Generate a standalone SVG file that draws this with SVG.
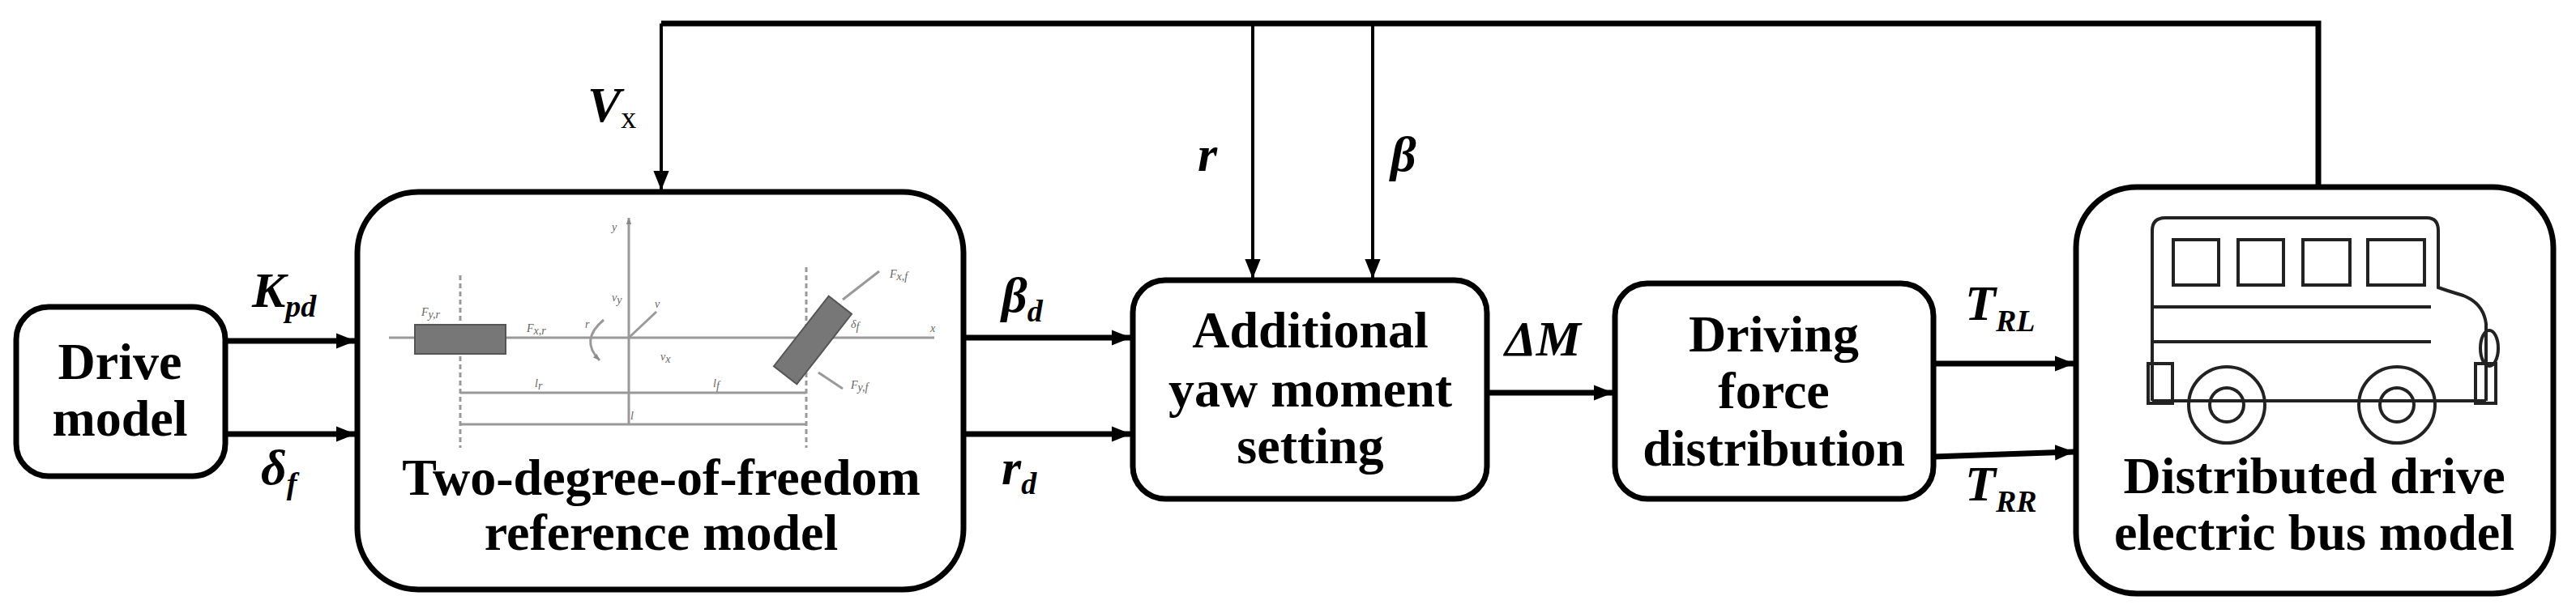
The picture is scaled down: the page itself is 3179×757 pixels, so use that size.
<svg xmlns="http://www.w3.org/2000/svg" width="3179" height="757" viewBox="0 0 3179 757" font-family="'Liberation Serif', 'DejaVu Serif', serif">
<defs>
<marker id="a" viewBox="0 0 10 10" refX="10" refY="5" markerWidth="24" markerHeight="24" markerUnits="userSpaceOnUse" orient="auto"><path d="M0,1 L10,5 L0,9 z" fill="#000"/></marker>
<marker id="g" viewBox="0 0 10 10" refX="10" refY="5" markerWidth="8" markerHeight="8" markerUnits="userSpaceOnUse" orient="auto"><path d="M0,1 L10,5 L0,9 z" fill="#888"/></marker>
</defs>
<style>
.box{fill:#fff;stroke:#000;stroke-width:7}
.t{font-family:'Liberation Serif',serif;font-weight:bold;font-size:64px;text-anchor:middle;fill:#000}
.l{font-family:'Liberation Serif',serif;font-weight:bold;font-style:italic;font-size:62px;fill:#000}
.s{font-size:38px}
.c{fill:none;stroke:#000;stroke-width:7}
.c2{fill:none;stroke:#000;stroke-width:4}
.gl{stroke:#999;stroke-width:3;fill:none}
.gt{font-family:'Liberation Serif',serif;font-style:italic;font-size:14px;fill:#666}
.bus{fill:none;stroke:#222;stroke-width:4}
</style>
<rect width="3179" height="757" fill="#fff"/>
<g id="connectors">
<polyline class="c" points="2861,231 2861,29 816,29"/>
<line class="c2" x1="816" y1="29" x2="816" y2="235" marker-end="url(#a)"/>
<line class="c2" x1="1546" y1="29" x2="1546" y2="344" marker-end="url(#a)"/>
<line class="c2" x1="1694" y1="29" x2="1694" y2="344" marker-end="url(#a)"/>
<line class="c" x1="278" y1="421" x2="439" y2="421" marker-end="url(#a)"/>
<line class="c" x1="278" y1="536" x2="439" y2="536" marker-end="url(#a)"/>
<line class="c" x1="1189" y1="417" x2="1396" y2="417" marker-end="url(#a)"/>
<line class="c" x1="1189" y1="536" x2="1396" y2="536" marker-end="url(#a)"/>
<line class="c" x1="1835" y1="485" x2="1991" y2="485" marker-end="url(#a)"/>
<line class="c" x1="2386" y1="449" x2="2560" y2="449" marker-end="url(#a)"/>
<line class="c" x1="2386" y1="564" x2="2560" y2="558" marker-end="url(#a)"/>
</g>
<g id="labels">
<text class="l" x="311" y="379">K<tspan class="s" dy="12">pd</tspan></text>
<text class="l" x="322" y="598">δ<tspan class="s" dy="12">f</tspan></text>
<text class="l" x="725" y="150">V<tspan class="s" dy="8" font-style="normal" font-weight="normal">x</tspan></text>
<text class="l" x="1478" y="211">r</text>
<text class="l" x="1716" y="211">β</text>
<text class="l" x="1236" y="385">β<tspan class="s" dy="12">d</tspan></text>
<text class="l" x="1236" y="598">r<tspan class="s" dy="12">d</tspan></text>
<text class="l" x="1857" y="439" font-size="50">ΔM</text>
<text class="l" x="2425" y="395">T<tspan class="s" dy="14">RL</tspan></text>
<text class="l" x="2425" y="618">T<tspan class="s" dy="14">RR</tspan></text>
</g>
<g id="drive">
<rect class="box" x="20" y="379" width="258" height="209" rx="40"/>
<text class="t" x="148" y="468">Drive</text>
<text class="t" x="148" y="538">model</text>
</g>
<g id="twodof">
<rect class="box" x="441" y="237" width="748" height="491" rx="75"/>
<line class="gl" x1="480" y1="417" x2="1153" y2="417"/>
<line class="gl" x1="776" y1="524" x2="776" y2="269" marker-end="url(#g)"/>
<line class="gl" x1="568" y1="340" x2="568" y2="553" stroke-dasharray="6,4"/>
<line class="gl" x1="995" y1="330" x2="995" y2="553" stroke-dasharray="6,4"/>
<line class="gl" x1="568" y1="485" x2="995" y2="485"/>
<line class="gl" x1="568" y1="524" x2="995" y2="524"/>
<rect x="512" y="401" width="112" height="36" fill="#777" stroke="#555" stroke-width="2"/>
<rect x="-55" y="-18" width="110" height="36" fill="#777" stroke="#555" stroke-width="2" transform="translate(1003,420) rotate(-52)"/>
<line class="gl" x1="1040" y1="370" x2="1085" y2="335"/>
<line class="gl" x1="1010" y1="460" x2="1040" y2="480"/>
<path class="gl" d="M745,395 Q715,420 740,445" marker-end="url(#g)"/>
<line class="gl" x1="776" y1="417" x2="810" y2="385"/>
<text class="gt" x="755" y="285">y</text>
<text class="gt" x="1148" y="410">x</text>
<text class="gt" x="520" y="390">F<tspan dy="3">y,r</tspan></text>
<text class="gt" x="1098" y="343">F<tspan dy="3">x,f</tspan></text>
<text class="gt" x="1050" y="480">F<tspan dy="3">y,f</tspan></text>
<text class="gt" x="650" y="410">F<tspan dy="3">x,r</tspan></text>
<text class="gt" x="660" y="478">l<tspan dy="3">r</tspan></text>
<text class="gt" x="880" y="478">l<tspan dy="3">f</tspan></text>
<text class="gt" x="778" y="518">l</text>
<text class="gt" x="755" y="372">v<tspan dy="3">y</tspan></text>
<text class="gt" x="815" y="445">v<tspan dy="3">x</tspan></text>
<text class="gt" x="808" y="380">v</text>
<text class="gt" x="722" y="405">r</text>
<text class="gt" x="1050" y="405">δ<tspan dy="3">f</tspan></text>
<text class="t" x="816" y="611">Two-degree-of-freedom</text>
<text class="t" x="816" y="679">reference model</text>
</g>
<g id="yaw">
<rect class="box" x="1398" y="346" width="437" height="270" rx="40"/>
<text class="t" x="1617" y="429">Additional</text>
<text class="t" x="1617" y="502">yaw moment</text>
<text class="t" x="1617" y="572">setting</text>
</g>
<g id="dist">
<rect class="box" x="1993" y="350" width="393" height="266" rx="40"/>
<text class="t" x="2189" y="434">Driving</text>
<text class="t" x="2189" y="504">force</text>
<text class="t" x="2189" y="575">distribution</text>
</g>
<g id="bus">
<rect class="box" x="2562" y="231" width="589" height="502" rx="75"/>
<path class="bus" d="M2656,495 L2656,285 Q2656,269 2672,269 L2995,269 Q3009,269 3009,285 L3009,355 Q3020,359 3040,365 Q3065,375 3068,400 L3068,495"/>
<line class="bus" x1="2656" y1="495" x2="3068" y2="495"/>
<rect class="bus" x="2682" y="296" width="56" height="56"/>
<rect class="bus" x="2762" y="296" width="56" height="56"/>
<rect class="bus" x="2842" y="296" width="58" height="56"/>
<rect class="bus" x="2922" y="296" width="70" height="56"/>
<line class="bus" x1="2656" y1="379" x2="3000" y2="379"/>
<line class="bus" x1="2656" y1="422" x2="3000" y2="422"/>
<rect class="bus" x="2651" y="449" width="30" height="49" fill="#fff"/>
<rect class="bus" x="3055" y="449" width="25" height="49" fill="#fff"/>
<ellipse class="bus" cx="3072" cy="430" rx="11" ry="22" fill="#fff"/>
<circle class="bus" cx="2748" cy="500" r="47" fill="#fff"/>
<circle class="bus" cx="2748" cy="500" r="21"/>
<circle class="bus" cx="2958" cy="500" r="47" fill="#fff"/>
<circle class="bus" cx="2958" cy="500" r="21"/>
<text class="t" x="2856" y="609">Distributed drive</text>
<text class="t" x="2856" y="679">electric bus model</text>
</g>
</svg>
